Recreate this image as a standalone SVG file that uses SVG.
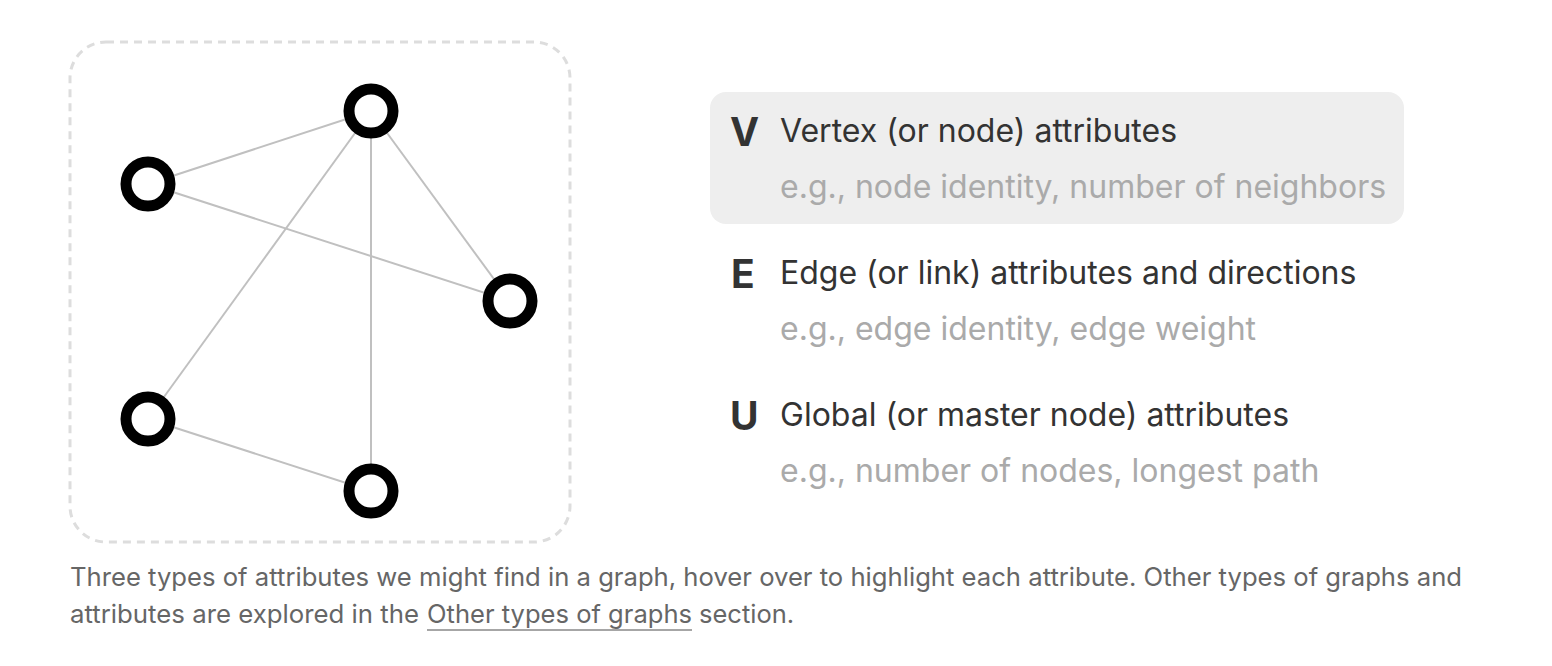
<svg xmlns="http://www.w3.org/2000/svg" width="1552" height="666" viewBox="0 0 1552 666">
<style>
.edge{stroke:#c0c0c0;stroke-width:2;fill:none}
.node{fill:#fff;stroke:#000;stroke-width:11}
.key{font-family:Inter,"Liberation Sans",sans-serif;font-weight:700;font-size:39px;fill:#333}
.title{font-family:Inter,"Liberation Sans",sans-serif;font-size:32px;fill:#333}
.sub{font-family:Inter,"Liberation Sans",sans-serif;font-size:32px;fill:#aaa}
.cap{font-family:Inter,"Liberation Sans",sans-serif;font-size:25.5px;fill:#666}
</style>
<rect x="70" y="42" width="500" height="500" rx="36" fill="none" stroke="#ddd" stroke-width="3" stroke-dasharray="8 6"/>
<g id="connectors">
<line class="edge" x1="371" y1="111" x2="148" y2="184"/>
<line class="edge" x1="148" y1="184" x2="510" y2="301"/>
<line class="edge" x1="371" y1="111" x2="510" y2="301"/>
<line class="edge" x1="371" y1="111" x2="148" y2="419"/>
<line class="edge" x1="371" y1="111" x2="371" y2="491"/>
<line class="edge" x1="148" y1="419" x2="371" y2="491"/>
</g>
<g id="n1"><circle class="node" cx="371" cy="111" r="22"/></g>
<g id="n2"><circle class="node" cx="148" cy="184" r="22"/></g>
<g id="n3"><circle class="node" cx="510" cy="301" r="22"/></g>
<g id="n4"><circle class="node" cx="148" cy="419" r="22"/></g>
<g id="n5"><circle class="node" cx="371" cy="491" r="22"/></g>
<g id="attr-v">
<rect x="710" y="92" width="694" height="132" rx="16" fill="#eee"/>
<text class="key" x="730" y="146">V</text>
<text class="title" x="780" y="142">Vertex (or node) attributes</text>
<text class="sub" x="780" y="198">e.g., node identity, number of neighbors</text>
</g>
<g id="attr-e">
<text class="key" x="731" y="288">E</text>
<text class="title" x="780" y="284">Edge (or link) attributes and directions</text>
<text class="sub" x="780" y="340">e.g., edge identity, edge weight</text>
</g>
<g id="attr-u">
<text class="key" x="730" y="430">U</text>
<text class="title" x="780" y="426">Global (or master node) attributes</text>
<text class="sub" x="780" y="482">e.g., number of nodes, longest path</text>
</g>
<g id="caption">
<text class="cap" x="70" y="586" textLength="1392" lengthAdjust="spacingAndGlyphs">Three types of attributes we might find in a graph, hover over to highlight each attribute. Other types of graphs and</text>
<text class="cap" y="623"><tspan x="70" textLength="349" lengthAdjust="spacingAndGlyphs">attributes are explored in the</tspan><tspan x="427" textLength="265" lengthAdjust="spacingAndGlyphs">Other types of graphs</tspan><tspan x="699">section.</tspan></text>
<line x1="427" y1="630" x2="692" y2="630" stroke="#888" stroke-width="1.5"/>
</g>
</svg>
